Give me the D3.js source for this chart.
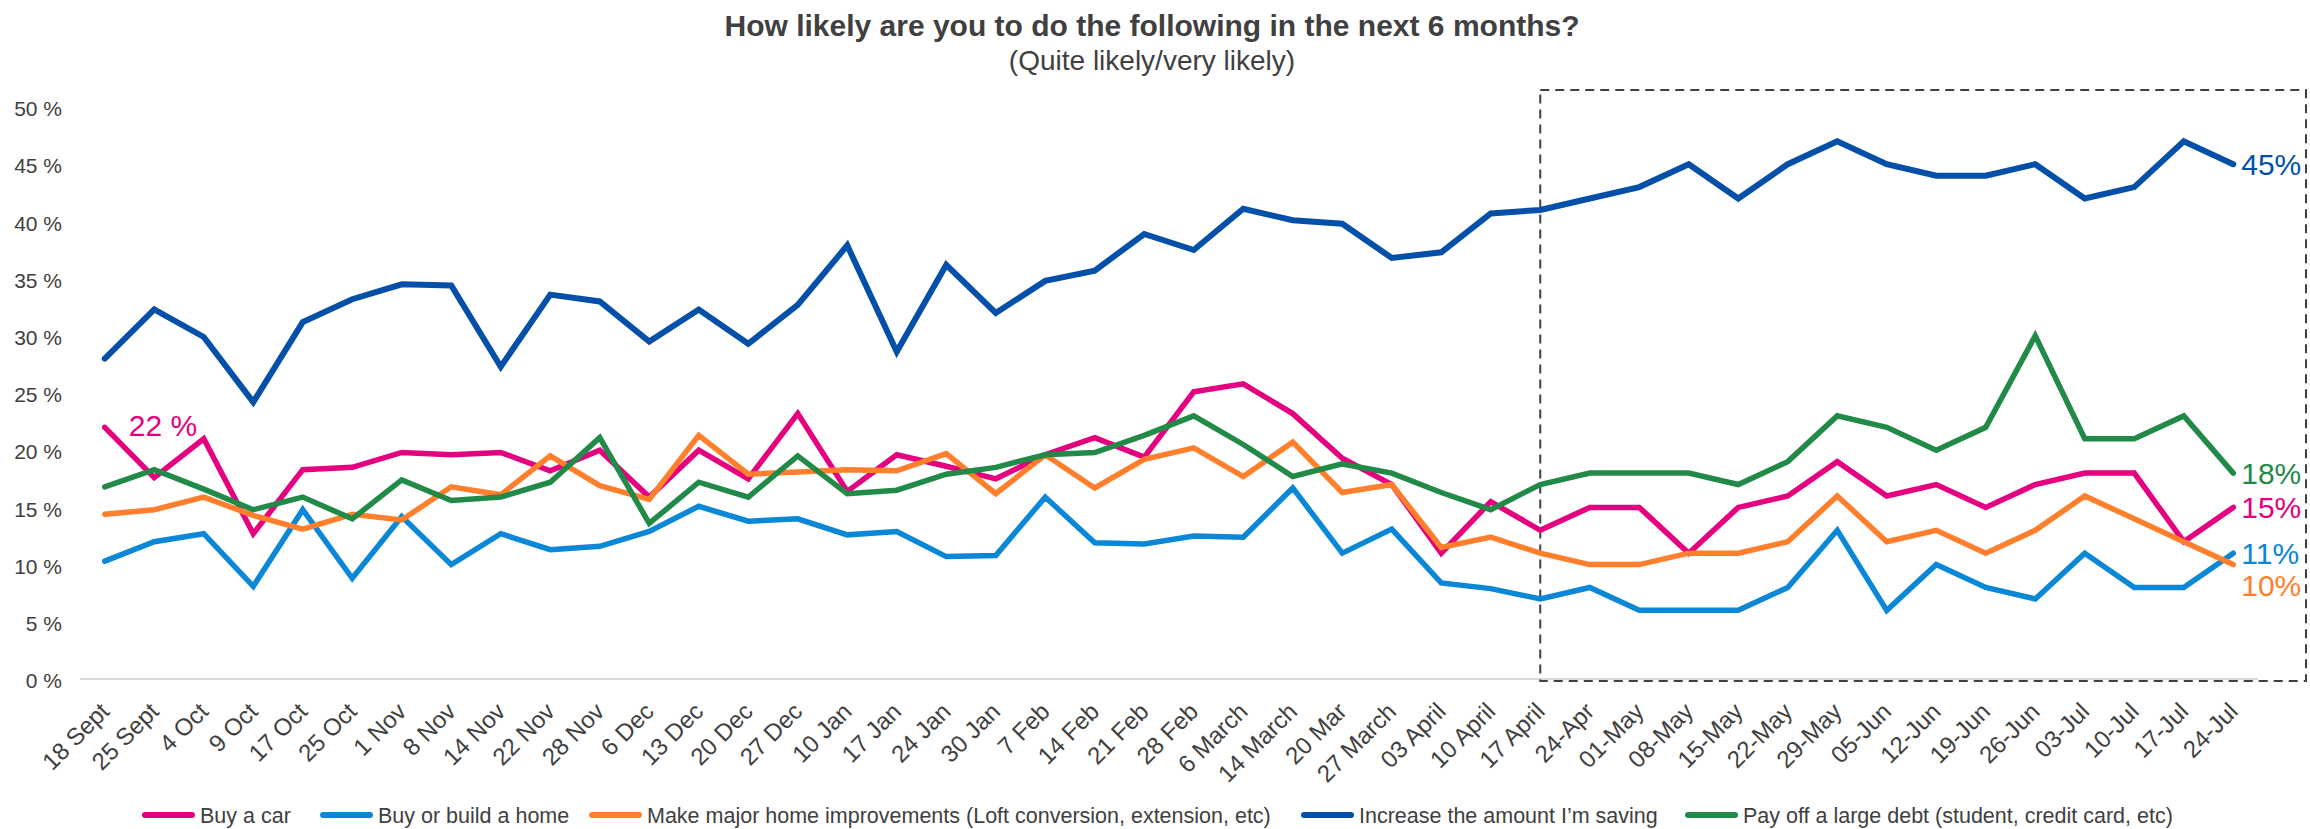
<!DOCTYPE html>
<html>
<head>
<meta charset="utf-8">
<script src="https://cdn.jsdelivr.net/npm/d3@7"></script>
<style>
  html, body { margin: 0; padding: 0; background: #fff; }
  svg { display: block; font-family: "Liberation Sans", Arial, sans-serif; }
</style>
</head>
<body>
<svg id="chart" width="2310" height="829"></svg>
<script>
// Survey weeks
const categories = [
  "18 Sept", "25 Sept", "4 Oct", "9 Oct", "17 Oct", "25 Oct", "1 Nov", "8 Nov", "14 Nov", "22 Nov",
  "28 Nov", "6 Dec", "13 Dec", "20 Dec", "27 Dec", "10 Jan", "17 Jan", "24 Jan", "30 Jan", "7 Feb",
  "14 Feb", "21 Feb", "28 Feb", "6 March", "14 March", "20 Mar", "27 March", "03 April", "10 April", "17 April",
  "24-Apr", "01-May", "08-May", "15-May", "22-May", "29-May", "05-Jun", "12-Jun", "19-Jun", "26-Jun",
  "03-Jul", "10-Jul", "17-Jul", "24-Jul"
];

// Share answering quite/very likely (%)
const buyCar = [22, 17.6, 21.0, 12.7, 18.3, 18.5, 19.8, 19.6, 19.8, 18.2,
  20.0, 15.9, 20.0, 17.5, 23.2, 16.4, 19.6, 18.6, 17.5, 19.6,
  21.1, 19.4, 25.1, 25.8, 23.2, 19.3, 17.0, 11.0, 15.5, 13,
  15, 15, 11, 15, 16, 19, 16, 17, 15, 17, 18, 18, 12, 15];
const buyHome = [10.3, 12.0, 12.7, 8.1, 14.8, 8.8, 14.2, 10.0, 12.7, 11.3,
  11.6, 12.9, 15.1, 13.8, 14.0, 12.6, 12.9, 10.7, 10.8, 15.9,
  11.9, 11.8, 12.5, 12.4, 16.7, 11.0, 13.1, 8.4, 7.9, 7,
  8, 6, 6, 6, 8, 13, 6, 10, 8, 7, 11, 8, 8, 11];
const homeImprovements = [14.4, 14.8, 15.9, 14.3, 13.1, 14.4, 13.9, 16.8, 16.1, 19.5,
  16.9, 15.7, 21.3, 17.9, 18.1, 18.3, 18.2, 19.7, 16.2, 19.6,
  16.7, 19.2, 20.2, 17.7, 20.7, 16.3, 17.0, 11.5, 12.4, 11,
  10, 10, 11, 11, 12, 16, 12, 13, 11, 13, 16, 14, 12, 10];
const increaseSaving = [28.0, 32.3, 29.9, 24.2, 31.2, 33.2, 34.5, 34.4, 27.3, 33.6,
  33.0, 29.5, 32.3, 29.3, 32.7, 37.9, 28.6, 36.2, 32.0, 34.8,
  35.7, 38.9, 37.5, 41.1, 40.1, 39.8, 36.8, 37.3, 40.7, 41,
  42, 43, 45, 42, 45, 47, 45, 44, 44, 45, 42, 43, 47, 45];
const payOffDebt = [16.8, 18.3, 16.6, 14.8, 15.9, 14.0, 17.4, 15.6, 15.9, 17.2,
  21.1, 13.6, 17.2, 15.9, 19.5, 16.2, 16.5, 17.9, 18.5, 19.6,
  19.8, 21.3, 23.0, 20.5, 17.7, 18.8, 18.0, 16.3, 14.8, 17,
  18, 18, 18, 17, 19, 23, 22, 20, 22, 30, 21, 21, 23, 18];

const seriesNames = [
  "Buy a car",
  "Buy or build a home",
  "Make major home improvements (Loft conversion, extension, etc)",
  "Increase the amount I\u2019m saving",
  "Pay off a large debt (student, credit card, etc)"
];
const yTicks = [0, 5, 10, 15, 20, 25, 30, 35, 40, 45, 50];

const colors = ["#E4007E", "#0A87D6", "#FF7F2C", "#0450A9", "#228A48"];
const widths = [5.5, 5.5, 5.5, 6, 5.5];
const series = [buyCar, buyHome, homeImprovements, increaseSaving, payOffDebt]
  .map((values, i) => ({ name: seriesNames[i], values, color: colors[i], width: widths[i] }));

const svg = d3.select("#chart");
const textColor = "#404040";

const x = d3.scalePoint().domain(categories).range([80, 2258]).padding(0.5);
const y = d3.scaleLinear().domain([0, 50]).range([679, 107]);

// Title
svg.append("text")
  .attr("x", 1152).attr("y", 36)
  .attr("text-anchor", "middle")
  .attr("font-size", 30).attr("font-weight", "bold")
  .attr("fill", textColor)
  .text("How likely are you to do the following in the next 6 months?");
svg.append("text")
  .attr("x", 1152).attr("y", 70)
  .attr("text-anchor", "middle")
  .attr("font-size", 28)
  .attr("fill", textColor)
  .text("(Quite likely/very likely)");

// Y axis labels
const yAxis = d3.axisLeft(y).tickValues(yTicks).tickSize(0).tickPadding(0)
  .tickFormat(d => d + " %");
const yg = svg.append("g").attr("transform", "translate(62,2)").call(yAxis);
yg.select(".domain").remove();
yg.selectAll("text").attr("font-size", 21).attr("fill", textColor)
  .attr("font-family", "Liberation Sans, Arial, sans-serif");

// Baseline
svg.append("line")
  .attr("x1", 80).attr("x2", 2258)
  .attr("y1", y(0)).attr("y2", y(0))
  .attr("stroke", "#D9D9D9").attr("stroke-width", 2);

// X axis labels, rotated
const xAxis = d3.axisBottom(x).tickSize(0).tickPadding(0);
const xg = svg.append("g").call(xAxis);
xg.select(".domain").remove();
xg.selectAll(".tick").attr("transform", null);
xg.selectAll(".tick text")
  .attr("x", null).attr("y", null).attr("dy", "0.35em")
  .attr("text-anchor", "end")
  .attr("font-size", 24).attr("fill", textColor)
  .attr("font-family", "Liberation Sans, Arial, sans-serif")
  .attr("transform", d => `translate(${x(d)},707) rotate(-45)`);

// Highlighted recent period
const boxLeft = x("17 April");
svg.append("rect")
  .attr("x", boxLeft).attr("y", 90)
  .attr("width", 2306 - boxLeft).attr("height", y(0) + 2 - 90)
  .attr("fill", "none")
  .attr("stroke", "#404040").attr("stroke-width", 2)
  .attr("stroke-dasharray", "9,6");

// Lines
const line = d3.line()
  .x((d, i) => x(categories[i]))
  .y(d => y(d));

svg.append("g").selectAll("path")
  .data(series)
  .join("path")
  .attr("d", s => line(s.values))
  .attr("fill", "none")
  .attr("stroke", s => s.color)
  .attr("stroke-width", s => s.width)
  .attr("stroke-linejoin", "miter")
  .attr("stroke-miterlimit", 3)
  .attr("stroke-linecap", "round");

// Value labels
const fmt = d3.format(".0f");
const last = categories.length - 1;
const endOffsets = [0, 0, 21, 0, 0];
svg.append("g").selectAll("text")
  .data(series)
  .join("text")
  .attr("x", x(categories[last]) + 8)
  .attr("y", (s, i) => y(s.values[last]) + endOffsets[i])
  .attr("dy", "0.35em")
  .attr("font-size", 30)
  .attr("fill", s => s.color)
  .text(s => fmt(s.values[last]) + "%");

svg.append("text")
  .attr("x", x(categories[0]) + 24)
  .attr("y", y(buyCar[0]) - 2)
  .attr("dy", "0.35em")
  .attr("font-size", 30)
  .attr("fill", colors[0])
  .text(fmt(buyCar[0]) + " %");

// Legend
const legendX = [142, 320, 589, 1301, 1685];
const legendY = 815;
const lg = svg.append("g").selectAll("g")
  .data(series)
  .join("g")
  .attr("transform", (s, i) => `translate(${legendX[i]},${legendY})`);
lg.append("line")
  .attr("x1", 3).attr("x2", 50)
  .attr("y1", 0).attr("y2", 0)
  .attr("stroke", s => s.color)
  .attr("stroke-width", 6)
  .attr("stroke-linecap", "round");
lg.append("text")
  .attr("x", 58).attr("y", 0).attr("dy", "0.35em")
  .attr("font-size", 21.5)
  .attr("fill", textColor)
  .text(s => s.name);
</script>
</body>
</html>
